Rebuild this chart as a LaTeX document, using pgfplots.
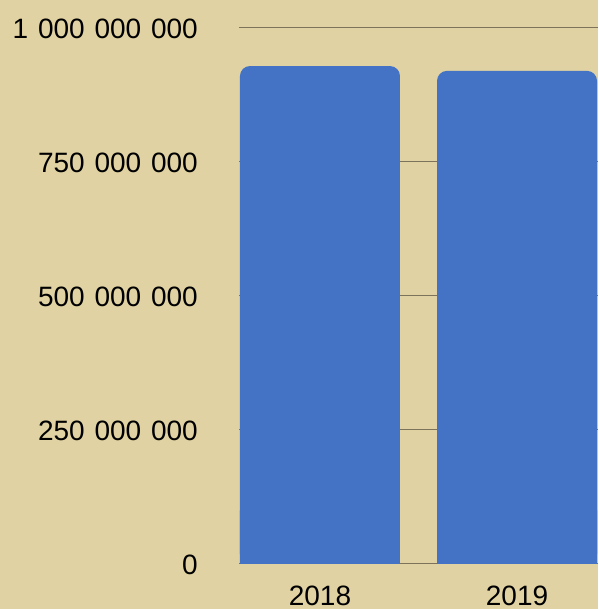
\documentclass[border=0pt]{standalone}
\usepackage{pgfplots}
\pgfplotsset{compat=1.18}
\usepackage{fontspec}
\setmainfont{Liberation Sans}
\definecolor{bg}{RGB}{224,210,162}
\definecolor{barblue}{RGB}{68,114,196}
\definecolor{gridc}{RGB}{125,115,90}
\newcommand{\sep}{\hspace{0.35em}}
\begin{document}
\fontsize{28pt}{32pt}\selectfont
\begin{tikzpicture}
\useasboundingbox (0,0) rectangle (598pt,609pt);
\fill[bg] (0,0) rectangle (598pt,609pt);
\begin{axis}[
  at={(239pt,45pt)}, anchor=south west,
  width=359pt, height=536pt, scale only axis,
  xmin=-0.411, xmax=1.411, ymin=0, ymax=1000000000,
  axis line style={draw=none},
  ymajorgrids, grid style={gridc, line width=1pt},
  major tick length=0pt,
  xtick={0,1}, xticklabels={2018,2019},
  ytick={0,250000000,500000000,750000000,1000000000},
  yticklabels={0,250\sep000\sep000,500\sep000\sep000,750\sep000\sep000,1\sep000\sep000\sep000},
  scaled y ticks=false,
  ticklabel style={font=\fontsize{28pt}{32pt}\selectfont, inner sep=0pt},
  yticklabel style={anchor=east, xshift=-41pt, yshift=-1pt},
  xticklabel style={anchor=north, yshift=-22pt},
]
\addplot[ybar, bar width=160pt, bar shift=0pt, fill=barblue, draw=none, rounded corners=10pt]
  coordinates {(0,929000000) (1,920000000)};
\addplot[ybar, bar width=160pt, bar shift=0pt, fill=barblue, draw=none]
  coordinates {(0,100000000) (1,100000000)};
\end{axis}
\end{tikzpicture}
\end{document}
